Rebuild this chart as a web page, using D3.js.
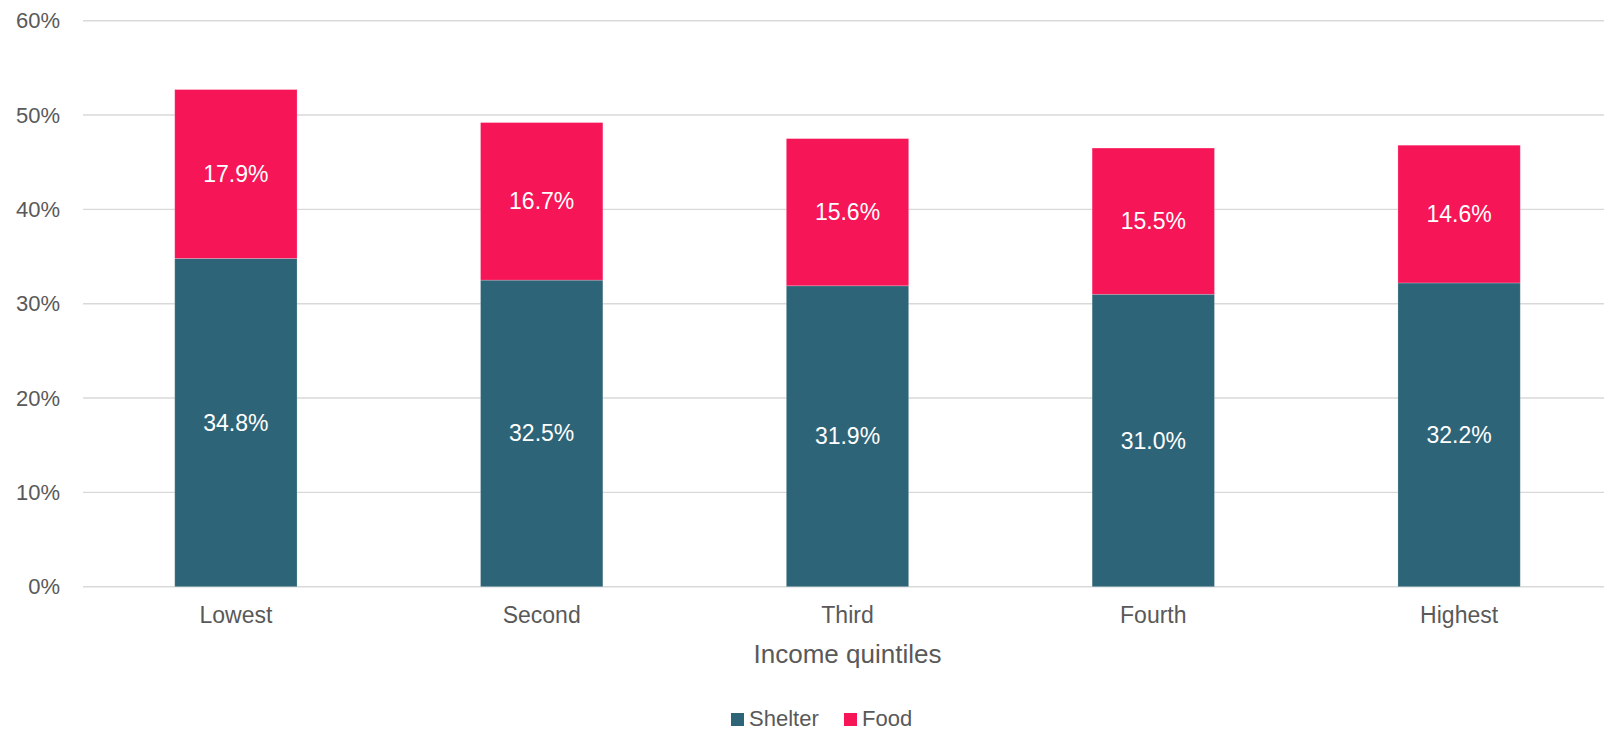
<!DOCTYPE html>
<html>
<head>
<meta charset="utf-8">
<script src="https://cdn.jsdelivr.net/npm/d3@7"></script>
<style>
  html, body { margin: 0; padding: 0; background: #fff; }
  svg { display: block; font-family: "Liberation Sans", Arial, sans-serif; }
</style>
</head>
<body>
<svg id="chart" width="1604" height="731"></svg>
<script>
// Share of spending on shelter and food, by income quintile (%)
const categories = ["Lowest", "Second", "Third", "Fourth", "Highest"];
const shelter = [34.8, 32.5, 31.9, 31.0, 32.2];
const food = [17.9, 16.7, 15.6, 15.5, 14.6];
const seriesNames = ["Shelter", "Food"];
const yTicks = [0, 10, 20, 30, 40, 50, 60];
const xTitle = "Income quintiles";

const colors = { Shelter: "#2E6478", Food: "#F61557" };

const svg = d3.select("#chart");
const W = 1604;
const margin = { left: 83, right: -8, top: 20.7, bottom: 586.7 };

const x = d3.scaleBand()
  .domain(categories)
  .range([margin.left, W - margin.right])
  .paddingInner(0.6)
  .paddingOuter(0.3);

const y = d3.scaleLinear()
  .domain([0, 60])
  .range([margin.bottom, margin.top]);

// gridlines
svg.append("g")
  .selectAll("line")
  .data(yTicks)
  .join("line")
  .attr("x1", margin.left)
  .attr("x2", W)
  .attr("y1", d => y(d))
  .attr("y2", d => y(d))
  .attr("stroke", "#d9d9d9")
  .attr("stroke-width", 1.4);

// y axis labels
const yAxis = d3.axisLeft(y)
  .tickValues(yTicks)
  .tickSize(0)
  .tickPadding(0)
  .tickFormat(d => d + "%");
const gy = svg.append("g")
  .attr("transform", "translate(60,0)")
  .call(yAxis);
gy.select(".domain").remove();
gy.selectAll("text")
  .attr("fill", "#595959")
  .attr("font-size", 22)
  .attr("font-family", "Liberation Sans, Arial, sans-serif");

// stacked data
const rows = categories.map((c, i) => ({ cat: c, Shelter: shelter[i], Food: food[i] }));
const stack = d3.stack().keys(seriesNames)(rows);

const layers = svg.append("g")
  .selectAll("g")
  .data(stack)
  .join("g")
  .attr("fill", d => colors[d.key]);

layers.selectAll("rect")
  .data(d => d)
  .join("rect")
  .attr("x", d => x(d.data.cat))
  .attr("width", x.bandwidth())
  .attr("y", d => y(d[1]))
  .attr("height", d => y(d[0]) - y(d[1]))
  .attr("stroke", "rgba(255,255,255,0.25)")
  .attr("stroke-width", 0.8);

// value labels
layers.selectAll("text")
  .data(d => d.map(v => ({ v, key: d.key })))
  .join("text")
  .attr("x", d => x(d.v.data.cat) + x.bandwidth() / 2)
  .attr("y", d => y((d.v[0] + d.v[1]) / 2))
  .attr("dy", "0.35em")
  .attr("text-anchor", "middle")
  .attr("fill", "#ffffff")
  .attr("font-size", 23)
  .text(d => d.v.data[d.key].toFixed(1) + "%");

// x axis category labels
const xAxis = d3.axisBottom(x).tickSize(0).tickPadding(0);
const gx = svg.append("g")
  .attr("transform", `translate(0,${margin.bottom})`)
  .call(xAxis);
gx.select(".domain").remove();
gx.selectAll("text")
  .attr("fill", "#595959")
  .attr("font-size", 23)
  .attr("font-family", "Liberation Sans, Arial, sans-serif")
  .attr("dy", null)
  .attr("y", 36.6);

// x axis title
svg.append("text")
  .attr("x", (margin.left + x(categories[4]) + x.bandwidth() + x.step() * 0.3) / 2)
  .attr("y", 662.7)
  .attr("text-anchor", "middle")
  .attr("fill", "#595959")
  .attr("font-size", 26)
  .text(xTitle);

// legend
const legend = svg.append("g");
const legendX = [731, 844];
seriesNames.forEach((name, i) => {
  legend.append("rect")
    .attr("x", legendX[i])
    .attr("y", 713)
    .attr("width", 13)
    .attr("height", 13)
    .attr("fill", colors[name]);
  legend.append("text")
    .attr("x", legendX[i] + 18)
    .attr("y", 726)
    .attr("fill", "#595959")
    .attr("font-size", 22)
    .text(name);
});
</script>
</body>
</html>
